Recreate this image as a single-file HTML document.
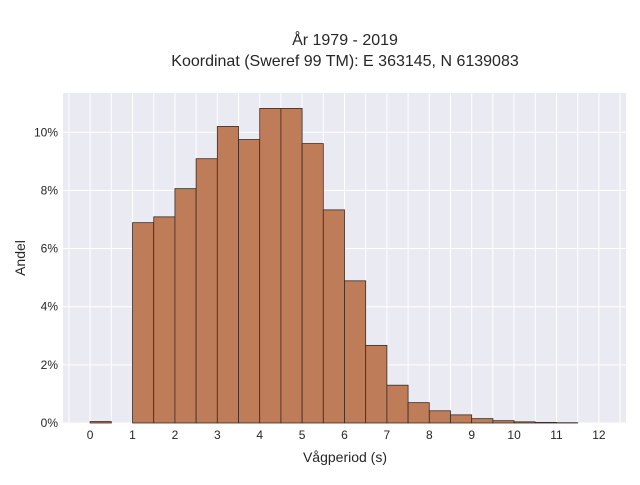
<!DOCTYPE html>
<html><head><meta charset="utf-8"><style>
body{margin:0;background:#fff;font-family:"Liberation Sans",sans-serif;}
svg text{font-family:"Liberation Sans",sans-serif;fill:#262626;}
</style></head><body>
<svg id="c" width="640" height="480">
<text x="345" y="45" text-anchor="middle" font-size="16">År 1979 - 2019</text>
<text x="345" y="66" text-anchor="middle" font-size="16">Koordinat (Sweref 99 TM): E 363145, N 6139083</text>
<rect x="63" y="93" width="563" height="330" fill="#eaeaf2"/>
<g id="grid"></g><g id="bars"></g><g id="ticks"></g>
<text x="345" y="462" text-anchor="middle" font-size="14">Vågperiod (s)</text>
<text transform="translate(25,258) rotate(-90)" text-anchor="middle" font-size="14">Andel</text>
</svg>
<script>
const binStarts=[0,0.5,1,1.5,2,2.5,3,3.5,4,4.5,5,5.5,6,6.5,7,7.5,8,8.5,9,9.5,10,10.5,11];
const shares=[0.05,0,6.89,7.09,8.06,9.09,10.2,9.75,10.82,10.82,9.61,7.33,4.89,2.67,1.3,0.7,0.42,0.28,0.15,0.08,0.04,0.02,0.01];
const xTicks=[0,1,2,3,4,5,6,7,8,9,10,11,12];
const yTicks=[0,2,4,6,8,10];
const binWidth=0.5;
const X0=63,X1=626,Y0=423,Y1=93,xmin=-0.64,xmax=12.64,ymin=0,ymax=11.35;
const sx=v=>X0+(v-xmin)/(xmax-xmin)*(X1-X0);
const sy=v=>Y0-(v-ymin)/(ymax-ymin)*(Y0-Y1);
const NS="http://www.w3.org/2000/svg";
const grid=document.getElementById('grid'),bars=document.getElementById('bars'),ticks=document.getElementById('ticks');
for(let v=-0.5;v<=12.5;v+=0.5){
 const l=document.createElementNS(NS,'line');
 l.setAttribute('x1',sx(v));l.setAttribute('x2',sx(v));l.setAttribute('y1',Y1);l.setAttribute('y2',Y0);
 l.setAttribute('stroke','#fff');l.setAttribute('stroke-width','1');
 
 
 grid.appendChild(l);
}
yTicks.forEach(v=>{
 const l=document.createElementNS(NS,'line');
 l.setAttribute('x1',X0);l.setAttribute('x2',X1);l.setAttribute('y1',sy(v));l.setAttribute('y2',sy(v));
 l.setAttribute('stroke','#fff');l.setAttribute('stroke-width','1');
 
 
 grid.appendChild(l);
 const t=document.createElementNS(NS,'text');
 t.setAttribute('x',X0-5);t.setAttribute('y',sy(v)+4);t.setAttribute('text-anchor','end');t.setAttribute('font-size','12');
 t.textContent=v+'%';
 
 
 ticks.appendChild(t);
});
xTicks.forEach(v=>{
 const t=document.createElementNS(NS,'text');
 t.setAttribute('x',sx(v));t.setAttribute('y',Y0+16);t.setAttribute('text-anchor','middle');t.setAttribute('font-size','12');
 t.textContent=v;
 
 
 ticks.appendChild(t);
});
binStarts.forEach((b,i)=>{
 if(shares[i]<=0)return;
 const r=document.createElementNS(NS,'rect');
 r.setAttribute('x',sx(b));r.setAttribute('width',sx(b+binWidth)-sx(b));
 r.setAttribute('y',sy(shares[i]));r.setAttribute('height',sy(0)-sy(shares[i]));
 r.setAttribute('fill','#bf7c58');r.setAttribute('stroke','#3a2a22');r.setAttribute('stroke-width','0.8');
 
 
 bars.appendChild(r);
});
</script>
</body></html>
